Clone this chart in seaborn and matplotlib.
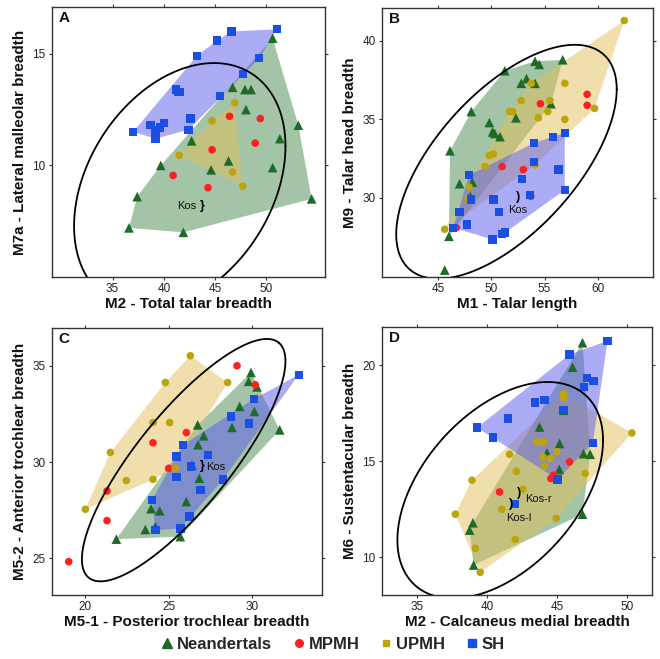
import numpy as np
import pandas as pd
import matplotlib
matplotlib.use("Agg")
import matplotlib.pyplot as plt
from matplotlib.lines import Line2D
import seaborn as sns

sns.set_theme(style="white")
plt.rcParams["font.family"] = ["Liberation Sans", "DejaVu Sans"]

GROUPS = ["Neandertals", "MPMH", "UPMH", "SH"]
MARKERS = {"Neandertals": "^", "MPMH": "o", "UPMH": "o", "SH": "s"}
SIZES = {"Neandertals": 48, "MPMH": 30, "UPMH": 30, "SH": 36}
PT_COLORS = {"Neandertals": "#1d6b27", "MPMH": "#ff1f1f", "UPMH": "#bba40c", "SH": "#1a4fe6"}
FILL_COLORS = {"Neandertals": "#4a8a52", "UPMH": "#e2c05a", "SH": "#5a5aee"}
FILL_ALPHA = {"Neandertals": 0.5, "UPMH": 0.5, "SH": 0.5}

# ---------------- Panel A ----------------
A_NEA_x = [50.6, 46.7, 47.9, 48.5, 48.0, 53.1, 51.3, 42.7, 39.7, 44.6, 46.3, 50.6, 54.4, 37.4, 36.6, 41.9]
A_NEA_y = [15.7, 13.5, 13.4, 13.4, 12.5, 11.8, 11.2, 11.1, 10.0, 9.8, 10.2, 9.9, 8.5, 8.6, 7.2, 7.0]
A_MPMH_x = [46.4, 49.4, 48.9, 44.7, 40.9, 44.3]
A_MPMH_y = [12.2, 12.1, 11.0, 10.7, 9.55, 9.0]
A_UPMH_x = [46.9, 44.7, 41.5, 46.7, 47.7]
A_UPMH_y = [12.8, 12.0, 10.45, 9.7, 9.07]
A_SH_x = [37.0, 38.7, 39.2, 39.6, 40.0, 39.2, 41.2, 41.4, 41.6, 42.4, 42.6, 43.2, 45.2, 46.6, 45.5, 47.7, 49.3, 51.0]
A_SH_y = [11.5, 11.8, 11.6, 11.7, 11.9, 11.2, 13.4, 13.3, 13.3, 11.6, 12.1, 14.9, 15.6, 16.0, 13.1, 14.1, 14.8, 16.1]

# ---------------- Panel B ----------------
B_NEA_x = [46.0, 46.1, 47.0, 48.2, 48.0, 48.1, 49.8, 50.1, 50.3, 50.8, 51.25, 52.3, 52.8, 53.3, 54.1, 54.1, 54.5, 55.6, 56.7]
B_NEA_y = [27.55, 33.0, 30.9, 31.0, 30.1, 35.5, 34.8, 34.2, 34.1, 33.9, 38.1, 35.1, 37.3, 37.6, 37.3, 38.7, 38.5, 36.0, 38.8]
B_NEA_out_x = [45.6]
B_NEA_out_y = [25.4]
B_MPMH_x = [46.7, 51.0, 53.0, 53.7, 54.6, 59.0, 59.0]
B_MPMH_y = [28.1, 32.0, 31.8, 30.1, 36.0, 36.6, 35.9]
B_UPMH_x = [62.5, 45.6, 47.8, 47.9, 49.4, 49.8, 50.2, 51.7, 52.0, 52.8, 53.75, 54.1, 54.4, 55.3, 55.5, 56.9, 56.9, 59.7]
B_UPMH_y = [41.3, 28.0, 29.9, 30.7, 32.0, 32.7, 32.8, 35.5, 35.5, 36.2, 37.3, 32.1, 35.1, 35.5, 36.2, 37.3, 35.0, 35.7]
B_SH_x = [46.4, 47.0, 47.7, 47.9, 48.1, 50.2, 50.1, 50.7, 51.0, 51.3, 52.9, 54.0, 54.0, 53.6, 55.8, 56.3, 56.9, 56.9]
B_SH_y = [28.1, 29.1, 28.3, 31.45, 29.9, 29.9, 27.35, 29.1, 27.7, 27.8, 31.2, 33.5, 32.3, 30.2, 33.9, 31.8, 34.15, 30.5]

# ---------------- Panel C ----------------
C_NEA_x = [21.86, 23.6, 23.94, 24.46, 24.2, 25.7, 26.06, 26.4, 26.74, 26.76, 27.1, 26.84, 28.8, 29.26, 29.8, 29.94, 30.3, 30.14, 31.66]
C_NEA_y = [26.0, 26.5, 27.58, 27.47, 26.65, 26.13, 27.95, 29.85, 31.93, 30.9, 31.36, 29.16, 31.8, 32.89, 34.19, 34.65, 33.9, 32.63, 31.67]
C_MPMH_x = [19.0, 21.3, 21.3, 24.06, 25.0, 26.06, 29.1, 30.2]
C_MPMH_y = [24.83, 26.96, 28.5, 31.0, 29.68, 31.53, 35.0, 34.01]
C_UPMH_x = [20.0, 21.5, 22.46, 24.06, 24.06, 24.8, 25.06, 25.4, 26.3, 28.54]
C_UPMH_y = [27.55, 30.5, 29.04, 32.05, 29.1, 34.13, 32.05, 29.68, 35.52, 34.13]
C_SH_x = [24.0, 24.2, 25.46, 25.46, 25.86, 25.7, 26.24, 26.34, 26.9, 27.34, 28.26, 28.74, 29.8, 30.1, 32.8]
C_SH_y = [28.03, 26.47, 30.29, 29.21, 30.89, 26.56, 27.17, 29.77, 28.55, 30.37, 29.1, 32.37, 32.0, 33.27, 34.53]

# ---------------- Panel D ----------------
D_NEA_x = [38.76, 39.0, 39.05, 43.76, 45.19, 44.29, 45.48, 46.12, 46.83, 45.17, 46.9, 47.38, 46.83]
D_NEA_y = [11.42, 11.8, 9.6, 16.79, 15.93, 15.44, 17.66, 19.91, 21.18, 14.58, 15.4, 15.37, 12.25]
D_MPMH_x = [40.9, 44.57, 44.76, 45.9]
D_MPMH_y = [13.41, 14.11, 14.28, 14.97]
D_UPMH_x = [37.74, 38.93, 39.17, 39.52, 41.07, 42.02, 41.62, 42.1, 42.57, 43.57, 44.05, 44.12, 44.0, 44.52, 45.0, 44.95, 45.48, 45.48, 47.02, 50.36]
D_UPMH_y = [12.25, 14.02, 10.47, 9.22, 12.5, 10.94, 15.37, 14.49, 13.54, 16.01, 16.01, 14.75, 15.23, 15.15, 15.5, 12.03, 18.53, 18.32, 14.37, 16.48]
D_SH_x = [39.29, 40.43, 41.5, 43.45, 44.12, 45.48, 45.9, 46.95, 47.14, 47.62, 48.62, 47.57, 45.05]
D_SH_y = [16.76, 16.24, 17.23, 18.06, 18.21, 17.69, 20.57, 18.87, 19.36, 19.19, 21.27, 15.96, 14.06]
D_SH_out_x = [42.02]
D_SH_out_y = [12.77]

# ---------------- panel settings ----------------
PANELS = [
    dict(letter="A", xlabel="M2 - Total talar breadth", ylabel="M7a - Lateral malleolar breadth",
         xlim=(29.1, 55.7), ylim=(5.0, 17.1), xticks=[35, 40, 45, 50], yticks=[10, 15],
         rect=[0.0788, 0.5797, 0.4136, 0.4097],
         pts={"Neandertals": (A_NEA_x, A_NEA_y), "MPMH": (A_MPMH_x, A_MPMH_y),
              "UPMH": (A_UPMH_x, A_UPMH_y), "SH": (A_SH_x, A_SH_y)},
         out={},
         ell=((41.55, 9.07), (10.30, 1.79), (0.0, 5.22)),
         kos=[("Kos", 42.2, 8.18, "center"), ],
         hooks=[(43.75, 8.18, "}")]),
    dict(letter="B", xlabel="M1 - Talar length", ylabel="M9 - Talar head breadth",
         xlim=(39.7, 65.2), ylim=(24.96, 42.1), xticks=[45, 50, 55, 60], yticks=[30, 35, 40],
         rect=[0.5788, 0.5797, 0.4106, 0.4082],
         pts={"Neandertals": (B_NEA_x, B_NEA_y), "MPMH": (B_MPMH_x, B_MPMH_y),
              "UPMH": (B_UPMH_x, B_UPMH_y), "SH": (B_SH_x, B_SH_y)},
         out={"Neandertals": (B_NEA_out_x, B_NEA_out_y)},
         ell=((51.41, 32.30), (10.375, 4.62), (0.0, 5.85)),
         kos=[("Kos", 52.45, 29.2, "center")],
         hooks=[(52.5, 30.05, ")")]),
    dict(letter="C", xlabel="M5-1 - Posterior trochlear breadth", ylabel="M5-2 - Anterior trochlear breadth",
         xlim=(18.0, 34.2), ylim=(23.1, 36.96), xticks=[20, 25, 30], yticks=[25, 30, 35],
         rect=[0.0788, 0.0971, 0.4091, 0.4052],
         pts={"Neandertals": (C_NEA_x, C_NEA_y), "MPMH": (C_MPMH_x, C_MPMH_y),
              "UPMH": (C_UPMH_x, C_UPMH_y), "SH": (C_SH_x, C_SH_y)},
         out={},
         ell=((25.9, 30.1), (5.7, 6.1), (2.19, -1.54)),
         kos=[("Kos", 27.25, 29.72, "left")],
         hooks=[(27.0, 29.8, "}")]),
    dict(letter="D", xlabel="M2 - Calcaneus medial breadth", ylabel="M6 - Sustentacular breadth",
         xlim=(32.5, 51.8), ylim=(8.04, 22.0), xticks=[35, 40, 45, 50], yticks=[10, 15, 20],
         rect=[0.5788, 0.0971, 0.4091, 0.4067],
         pts={"Neandertals": (D_NEA_x, D_NEA_y), "MPMH": (D_MPMH_x, D_MPMH_y),
              "UPMH": (D_UPMH_x, D_UPMH_y), "SH": (D_SH_x, D_SH_y)},
         out={"SH": (D_SH_out_x, D_SH_out_y)},
         ell=((40.95, 13.5), (7.35, 2.6), (0.0, 5.0)),
         kos=[("Kos-r", 42.7, 13.05, "left"), ("Kos-l", 41.35, 12.05, "left")],
         hooks=[(42.3, 13.35, ")"), (41.75, 12.8, ")")]),
]


def convex_hull(xs, ys):
    pts = sorted(set(zip(xs, ys)))
    if len(pts) < 3:
        return pts

    def cross(o, a, b):
        return (a[0] - o[0]) * (b[1] - o[1]) - (a[1] - o[1]) * (b[0] - o[0])

    lower, upper = [], []
    for p in pts:
        while len(lower) >= 2 and cross(lower[-2], lower[-1], p) <= 0:
            lower.pop()
        lower.append(p)
    for p in reversed(pts):
        while len(upper) >= 2 and cross(upper[-2], upper[-1], p) <= 0:
            upper.pop()
        upper.append(p)
    return lower[:-1] + upper[:-1]


fig = plt.figure(figsize=(6.6, 6.59), dpi=100)

for P in PANELS:
    ax = fig.add_axes(P["rect"])
    # hulls
    for g in ["Neandertals", "UPMH", "SH"]:
        xs, ys = P["pts"][g]
        hull = convex_hull(xs, ys)
        ax.fill([p[0] for p in hull], [p[1] for p in hull], color=FILL_COLORS[g],
                alpha=FILL_ALPHA[g], lw=0, zorder=1)
    # points
    rows = []
    for g in GROUPS:
        xs, ys = P["pts"][g]
        rows += [(x, y, g) for x, y in zip(xs, ys)]
        if g in P["out"]:
            ox, oy = P["out"][g]
            rows += [(x, y, g) for x, y in zip(ox, oy)]
    df = pd.DataFrame(rows, columns=["x", "y", "group"])
    sns.scatterplot(data=df, x="x", y="y", hue="group", style="group", size="group",
                    hue_order=GROUPS, style_order=GROUPS, size_order=GROUPS,
                    palette=PT_COLORS, markers=MARKERS, sizes=SIZES,
                    linewidth=0, legend=False, ax=ax, zorder=3)
    # ellipse
    (cx, cy), (ux, uy), (vx, vy) = P["ell"]
    t = np.linspace(0, 2 * np.pi, 400)
    ax.plot(cx + ux * np.cos(t) + vx * np.sin(t), cy + uy * np.cos(t) + vy * np.sin(t),
            color="black", lw=1.3, zorder=4, clip_on=True)
    # Kos annotations
    for txt, x, y, ha in P["kos"]:
        ax.text(x, y, txt, fontsize=8, ha=ha, va="center", color="#111111", zorder=5)
    for x, y, h in P["hooks"]:
        ax.text(x, y, h, fontsize=9, fontweight="bold", ha="center", va="center", color="black", zorder=5)

    ax.set_xlim(*P["xlim"])
    ax.set_ylim(*P["ylim"])
    ax.set_xticks(P["xticks"])
    ax.set_yticks(P["yticks"])
    ax.tick_params(axis="both", which="both", labelsize=8.5, direction="out", length=2.5, width=0.8,
                   pad=2, top=True, right=True, bottom=True, left=True, colors="#333333",
                   labelcolor="#222222")
    ax.set_xlabel(P["xlabel"], fontsize=11, fontweight="bold", labelpad=1, color="#111111")
    ax.set_ylabel(P["ylabel"], fontsize=11, fontweight="bold", labelpad=4, color="#111111")
    for s in ax.spines.values():
        s.set_color("#333333")
        s.set_linewidth(1.0)
    ax.text(0.025, 0.985, P["letter"], transform=ax.transAxes, fontsize=11, fontweight="bold",
            ha="left", va="top", color="#111111")

handles = [Line2D([0], [0], marker="^", ls="", color=PT_COLORS["Neandertals"], markersize=7),
           Line2D([0], [0], marker="o", ls="", color=PT_COLORS["MPMH"], markersize=5.5),
           Line2D([0], [0], marker="s", ls="", color=PT_COLORS["UPMH"], markersize=5),
           Line2D([0], [0], marker="s", ls="", color=PT_COLORS["SH"], markersize=5.5)]
fig.legend(handles, GROUPS, loc="center", bbox_to_anchor=(0.503, 0.022), ncol=4, frameon=False,
           prop={"size": 12, "weight": "bold"}, handletextpad=0.1, columnspacing=1.1,
           handlelength=1.0)

fig.savefig("out.png", dpi=100)
